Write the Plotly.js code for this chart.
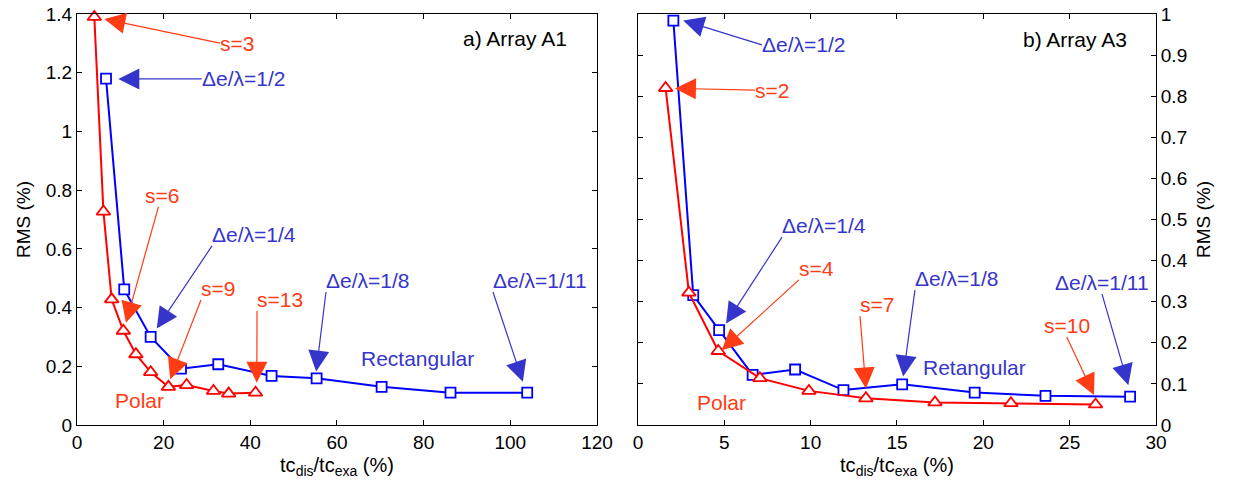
<!DOCTYPE html>
<html>
<head>
<meta charset="utf-8">
<script src="https://cdn.plot.ly/plotly-3.0.1.min.js"></script>
<style>html,body{margin:0;padding:0;background:#fff;}#chart{width:1238px;height:490px;}</style>
</head>
<body>
<div id="chart"></div>
<script>
// ---- Data: panel a) Array A1 ----
const polarA1_x = [4.0, 6.1, 8.0, 10.7, 13.6, 17.0, 21.1, 25.3, 31.5, 35.0, 41.2];
const polarA1_y = [1.39, 0.727, 0.428, 0.321, 0.241, 0.18, 0.13, 0.136, 0.116, 0.107, 0.11];
const rectA1_x = [6.7, 10.9, 17.0, 24.0, 32.6, 44.9, 55.3, 70.3, 86.2, 103.9];
const rectA1_y = [1.18, 0.462, 0.30, 0.192, 0.207, 0.167, 0.159, 0.13, 0.11, 0.11];

// ---- Data: panel b) Array A3 ----
const polarA3_x = [1.6, 2.95, 4.65, 7.06, 9.9, 13.2, 17.2, 21.6, 26.5];
const polarA3_y = [0.82, 0.322, 0.18, 0.114, 0.083, 0.065, 0.055, 0.053, 0.050];
const rectA3_x = [2.05, 3.2, 4.7, 6.64, 9.1, 11.9, 15.3, 19.5, 23.6, 28.5];
const rectA3_y = [0.984, 0.316, 0.231, 0.122, 0.135, 0.085, 0.099, 0.079, 0.071, 0.069];

// ---- Annotation labels ----
const labelsA1_text = ["s=3", "Δe/λ=1/2", "s=6", "Δe/λ=1/4", "s=9", "s=13", "Δe/λ=1/8", "Δe/λ=1/11"];
const labelsA1_kind = ["p", "r", "p", "r", "p", "p", "r", "r"];
const labelsA3_text = ["Δe/λ=1/2", "s=2", "Δe/λ=1/4", "s=4", "s=7", "Δe/λ=1/8", "s=10", "Δe/λ=1/11"];
const labelsA3_kind = ["r", "p", "r", "p", "p", "r", "p", "r"];

// arrow tails (label anchor points) and tips, data coords; anchor code: [x-anchor][y-anchor]
const posA1_tail = [[33.0,1.301],[28.78,1.179],[19.55,0.783],[31.15,0.610],[28.6,0.426],[41.54,0.388],[57.46,0.453],[96.0,0.453]];
const posA1_anchor = ["lm", "lm", "cm", "lb", "lb", "lb", "lb", "lb"];
const posA1_tip  = [[6.3,1.383],[9.53,1.179],[11.3,0.348],[18.4,0.329],[21.5,0.156],[41.5,0.144],[55.2,0.182],[102.9,0.147]];
const posA3_tail = [[7.18,0.925],[6.78,0.815],[8.34,0.457],[9.32,0.353],[12.86,0.265],[16.04,0.328],[24.83,0.214],[26.87,0.319]];
const posA3_anchor = ["lm", "lm", "lb", "lb", "lb", "lb", "cb", "cb"];
const posA3_tip  = [[2.62,0.984],[2.14,0.819],[5.10,0.247],[4.85,0.182],[13.2,0.089],[15.36,0.118],[26.41,0.073],[28.4,0.097]];

const FONT = "Liberation Sans, Arial, Helvetica, sans-serif";
const RED = "#ff0000", BLUE = "#0000ff";
const ANN_RED = "#ff3c14", ANN_BLUE = "#3535cc";
const XA = {l: "left", c: "center", r: "right"};
const YA = {t: "top", m: "middle", b: "bottom"};

function series(x, y, color, symbol, size, xa, ya) {
  return {x: x, y: y, xaxis: xa, yaxis: ya, type: "scatter", mode: "lines+markers",
    line: {color: color, width: 2},
    marker: {symbol: symbol, size: size, color: "#ffffff", line: {color: color, width: 1.8}},
    showlegend: false, hoverinfo: "skip", cliponaxis: false};
}

const traces = [
  series(rectA1_x, rectA1_y, BLUE, "square", 10, "x", "y"),
  series(polarA1_x, polarA1_y, RED, "triangle-up", 12, "x", "y"),
  series(rectA3_x, rectA3_y, BLUE, "square", 10, "x2", "y2"),
  series(polarA3_x, polarA3_y, RED, "triangle-up", 12, "x2", "y2")
];

const annotations = [];
function addLabels(texts, kinds, ptail, anchors, ptip, xr, yr) {
  texts.forEach((t, i) => {
    const col = kinds[i] === "p" ? ANN_RED : ANN_BLUE;
    annotations.push({xref: xr, yref: yr, axref: xr, ayref: yr,
      x: ptip[i][0], y: ptip[i][1], ax: ptail[i][0], ay: ptail[i][1],
      xanchor: XA[anchors[i][0]], yanchor: YA[anchors[i][1]],
      text: t, showarrow: true, arrowhead: 2, arrowsize: 3.5, arrowwidth: 1.2,
      arrowcolor: col, standoff: 0, borderpad: 0, borderwidth: 0,
      font: {family: FONT, size: 21, color: col}});
  });
}
addLabels(labelsA1_text, labelsA1_kind, posA1_tail, posA1_anchor, posA1_tip, "x", "y");
addLabels(labelsA3_text, labelsA3_kind, posA3_tail, posA3_anchor, posA3_tip, "x2", "y2");

const plainText = [
  {xref: "x", yref: "y", x: 78.6, y: 0.227, text: "Rectangular", color: ANN_BLUE},
  {xref: "x", yref: "y", x: 14.5, y: 0.085, text: "Polar", color: ANN_RED},
  {xref: "x", yref: "y", x: 101.1, y: 1.315, text: "a) Array A1", color: "#000000"},
  {xref: "x2", yref: "y2", x: 19.46, y: 0.139, text: "Retangular", color: ANN_BLUE},
  {xref: "x2", yref: "y2", x: 4.81, y: 0.054, text: "Polar", color: ANN_RED},
  {xref: "x2", yref: "y2", x: 25.31, y: 0.937, text: "b) Array A3", color: "#000000"}
];
plainText.forEach(a => annotations.push({xref: a.xref, yref: a.yref, x: a.x, y: a.y, text: a.text,
  showarrow: false, font: {family: FONT, size: 21, color: a.color}}));

const axisBase = {showline: true, linecolor: "#000", linewidth: 1, mirror: "ticks",
  ticks: "inside", ticklen: 5, tickcolor: "#000", showgrid: false, zeroline: false,
  tickfont: {family: FONT, size: 19, color: "#000"}, fixedrange: true};

const xTitle = {text: "tc<sub>dis</sub>/tc<sub>exa</sub> (%)", font: {family: FONT, size: 20, color: "#000"}, standoff: 6};
const yTitle = {text: "RMS (%)", font: {family: FONT, size: 19, color: "#000"}};

const layout = {
  width: 1238, height: 490,
  margin: {l: 77, r: 82, t: 14, b: 65},
  paper_bgcolor: "#ffffff", plot_bgcolor: "#ffffff",
  font: {family: FONT, color: "#000"},
  showlegend: false,
  xaxis: Object.assign({}, axisBase, {domain: [0, 0.4819], range: [0, 120], dtick: 20, tick0: 0, title: xTitle, anchor: "y"}),
  yaxis: Object.assign({}, axisBase, {range: [0, 1.4], dtick: 0.2, tick0: 0, title: Object.assign({}, yTitle, {standoff: 10}), anchor: "x"}),
  xaxis2: Object.assign({}, axisBase, {domain: [0.5199, 1], range: [0, 30], dtick: 5, tick0: 0, title: xTitle, anchor: "y2"}),
  yaxis2: Object.assign({}, axisBase, {range: [0, 1], dtick: 0.1, tick0: 0, side: "right", anchor: "x2", title: Object.assign({}, yTitle, {standoff: 10})}),
  annotations: annotations
};

Plotly.newPlot("chart", traces, layout, {displayModeBar: false, staticPlot: true});
</script>
</body>
</html>
